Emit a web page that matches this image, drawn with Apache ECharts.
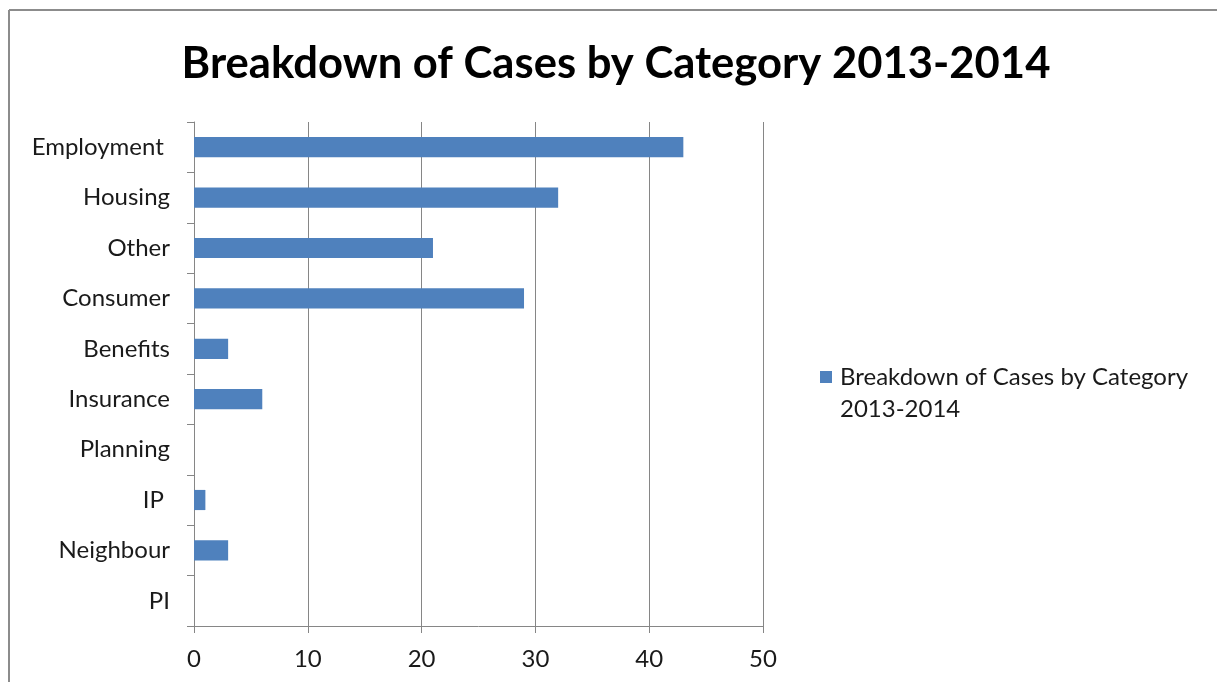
<!DOCTYPE html>
<html>
<head>
<meta charset="utf-8">
<script src="https://cdn.jsdelivr.net/npm/echarts@6/dist/echarts.min.js"></script>
<style>
html,body{margin:0;padding:0;background:#fff;}
#chart{width:1217px;height:682px;}
</style>
</head>
<body>
<div id="chart"></div>
<script>
var titleText = 'Breakdown of Cases by Category 2013-2014';
var seriesName = 'Breakdown of Cases by Category 2013-2014';
var legendLines = ['', 'Breakdown of Cases by Category', '2013-2014'];
var categories = ['Employment ', 'Housing', 'Other', 'Consumer', 'Benefits', 'Insurance', 'Planning', 'IP ', 'Neighbour', 'PI'];
var values = [43, 32, 21, 29, 3, 6, 0, 1, 3, 0];
var xTicks = [0, 10, 20, 30, 40, 50];

var FONT = 'Lato, "Open Sans", sans-serif';
var chart = echarts.init(document.getElementById('chart'), null, {renderer: 'canvas'});
chart.setOption({
  animation: false,
  backgroundColor: '#fff',
  title: {
    text: titleText,
    left: 611, top: 37, textAlign: 'center',
    textStyle: {fontFamily: FONT, fontWeight: 'bold', fontSize: 43.6, color: '#000'}
  },
  legend: {
    left: 815, top: 324,
    orient: 'vertical',
    itemWidth: 12, itemHeight: 12, itemGap: 9,
    icon: 'rect',
    formatter: function () { return legendLines.join('\n'); },
    textStyle: {fontFamily: FONT, fontSize: 24, color: '#1a1a1a', lineHeight: 32, padding: [0, 0, 0, 3]}
  },
  grid: {left: 194, top: 122, right: 454, bottom: 56, containLabel: false},
  xAxis: {
    type: 'value', min: xTicks[0], max: xTicks[xTicks.length - 1], interval: 10,
    axisLine: {show: true, lineStyle: {color: '#868686', width: 1}},
    axisTick: {show: true, length: 7, lineStyle: {color: '#868686'}},
    splitLine: {show: true, lineStyle: {color: '#868686', width: 1}},
    axisLabel: {fontFamily: FONT, fontSize: 24, color: '#1a1a1a', margin: 21}
  },
  yAxis: {
    type: 'category', data: categories, inverse: true,
    axisLine: {show: true, lineStyle: {color: '#868686', width: 1}},
    axisTick: {show: true, length: 7, alignWithLabel: false, lineStyle: {color: '#868686'}},
    axisLabel: {fontFamily: FONT, fontSize: 24, color: '#1a1a1a', margin: 24}
  },
  series: [{
    name: seriesName, type: 'bar', data: values,
    barCategoryGap: '60%',
    itemStyle: {color: '#4F81BD'}
  }],
  graphic: [
    {type: 'line', shape: {x1: 9, y1: 10, x2: 1217, y2: 10}, style: {stroke: '#8c8c8c', lineWidth: 2}},
    {type: 'line', shape: {x1: 9, y1: 10, x2: 9, y2: 682}, style: {stroke: '#8c8c8c', lineWidth: 2}}
  ]
});
</script>
</body>
</html>
